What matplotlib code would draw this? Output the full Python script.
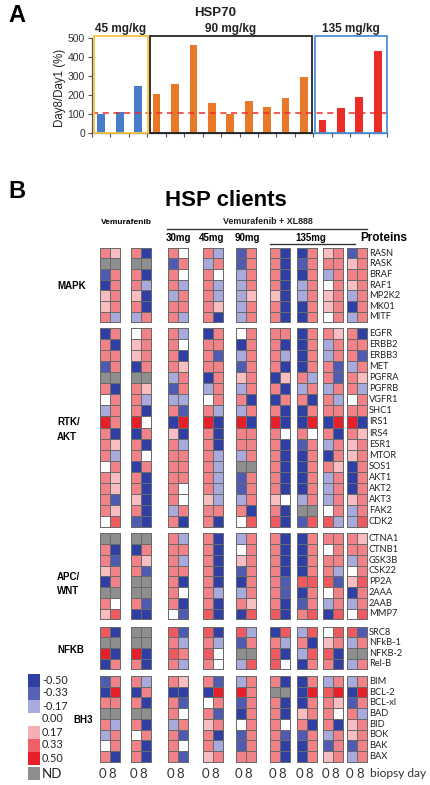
import numpy as np
import matplotlib
matplotlib.use('Agg')
import matplotlib.pyplot as plt
from matplotlib.colors import LinearSegmentedColormap, Normalize
from matplotlib.patches import Rectangle

plt.rcParams['font.family'] = ['Liberation Sans', 'DejaVu Sans']

# ---------------- Panel A data ----------------
dose_groups = ['45 mg/kg', '90 mg/kg', '135 mg/kg']
hsp70_45 = [100, 110, 245]
hsp70_90 = [205, 260, 465, 160, 100, 170, 135, 185, 295]
hsp70_135 = [70, 130, 190, 430]
hsp70_reference = 105
yticks_a = [0, 100, 200, 300, 400, 500]

# ---------------- Panel B data ----------------
# cell codes: B=-0.50, b=-0.36, l=-0.17, w=0, p=0.14, s=0.26, r=0.34, R=0.50, N=not determined
code_values = {'B': -0.50, 'b': -0.36, 'l': -0.17, 'w': 0.0, 'p': 0.14,
               's': 0.26, 'r': 0.34, 'R': 0.50, 'N': np.nan}
patient_labels = ['Vem-1', 'Vem-2', '30mg', '45mg', '90mg', '135mg-1', '135mg-2', '135mg-3', '135mg-4']
day_labels = ['0', '8']

group_names = ['MAPK', 'RTK/\nAKT', 'APC/\nWNT', 'NFKB', 'BH3']

mapk_proteins = ['RASN', 'RASK', 'BRAF', 'RAF1', 'MP2K2', 'MK01', 'MITF']
mapk_values = [
    "sp sB sw sl bs sB Bs ps bs",
    "NN NN bs ls bs sB bs ss ps",
    "bs sB sw sw ls sB Bs ls ss",
    "Bs sl sl sl ls sB ls ws ps",
    "ps pB ls sl lp pB ls ps ls",
    "ps sB ss sp ls sB Bs ps Bs",
    "sl ls sl sB ls sB Bs ws ls",
]

rtk_proteins = ['EGFR', 'ERBB2', 'ERBB3', 'MET', 'PGFRA', 'PGFRB', 'VGFR1', 'SHC1', 'IRS1',
                'IRS4', 'ESR1', 'MTOR', 'SOS1', 'AKT1', 'AKT2', 'AKT3', 'FAK2', 'CDK2']
rtk_values = [
    "Bs ws sl Bs ws ss Bs sp sB",
    "sB ps sw ss Bs sB Bs ls ss",
    "ss ps sB sb ls sl Bs ls sb",
    "bs Bs sp ss bs sB Bs sb ls",
    "NN NN ls Bs ps Bp sl sb sp",
    "sB sp bs ls ls sB ls ls sl",
    "ws sl ll ws sB Bs sB sl ws",
    "ls sB sb sl ls sB Bs ss ss",
    "Rs Rw BR RB RB RB BR BR RB",
    "sB Bs pB sB ss sw sw sB sp",
    "sp sB sl sB ss sB bs ls ps",
    "sl sw ss sl ls sB Bs Bs ps",
    "ws Bs ss sl NN sB Bs sp Bs",
    "sp sB ss sl bs sB Bs ls Bs",
    "sp sB sw sl bs sB Bs ls Bs",
    "sb pB sw pl ls pw ls ls ps",
    "sp sB ls ss sB sB NN ws ls",
    "wr bB sB sB wr rB br rl lr",
]

wnt_proteins = ['CTNA1', 'CTNB1', 'GSK3B', 'CSK22', 'PP2A', '2AAA', '2AAB', 'MMP7']
wnt_values = [
    "NN NN sl sB ls sB Bs ss sp",
    "sB Bs ss sB ws sB Bs ws ss",
    "sb sp sl sB ps sB Bs ss ls",
    "ps sb ss sB bs sB Bs sl ws",
    "Bs NN sB sB Bs sb rr rb pr",
    "NN NN sw sl ls sb Bs ws Bs",
    "sw sb sB sB sp sB bs ls ls",
    "pr BB wb rB Br rB sr Br wr",
]

nfkb_proteins = ['SRC8', 'NFkB-1', 'NFKB-2', 'Rel-B']
nfkb_values = [
    "rB NN rb rB rl Br lr wr rb",
    "NN NN sl sl bs sl sB ps ls",
    "RB RB rs rw NN rB lr rB NN",
    "Bs sB sl sw lr rw Bs sB ls",
]

bh3_proteins = ['BIM', 'BCL-2', 'BCL-xl', 'BAD', 'BID', 'BOK', 'BAK', 'BAX']
bh3_values = [
    "bs sl sp sb ls sB Bs ls ls",
    "BR Bs BB BR Rs NN BR rR BR",
    "ss sB sb ws bs sB Bs sp bs",
    "NN NN sw sb Bs sB ps sw sl",
    "sl sB ls ps ws sw sB sB ps",
    "ls ws sb sB bs sb bs ls ps",
    "ws sB sw sl bs sB Bs bs bs",
    "sB sB sb ps ss sB Bs ps ls",
]

legend_values = [-0.50, -0.33, -0.17, 0.00, 0.17, 0.33, 0.50]
legend_labels = ['-0.50', '-0.33', '-0.17', '0.00', '0.17', '0.33', '0.50']
legend_colors = ['#2F3FA3', '#5762B4', '#A7AADB', '#FFFFFF', '#F6AEB2', '#EE6066', '#E61F28']
nd_color = '#8E8E8E'

# ---------------- figure ----------------
W, H = 431, 785
fig = plt.figure(figsize=(W / 100, H / 100), dpi=100)
axb = fig.add_axes([0, 0, 1, 1])
axb.set_xlim(0, W)
axb.set_ylim(H, 0)
axb.axis('off')

# ---------------- Panel A ----------------
ax_left, ax_right, ax_top, ax_bot = 92, 387, 38, 133
axa = fig.add_axes([ax_left / W, 1 - ax_bot / H, (ax_right - ax_left) / W, (ax_bot - ax_top) / H])
axa.set_facecolor('none')
all_vals = hsp70_45 + hsp70_90 + hsp70_135
bar_colors = ['#4A7DC8'] * len(hsp70_45) + ['#E8792B'] * len(hsp70_90) + ['#EC2D25'] * len(hsp70_135)
xpos = np.arange(len(all_vals))
axa.bar(xpos, all_vals, width=0.42, color=bar_colors, zorder=2)
axa.axhline(hsp70_reference, color='#E8302A', lw=1.1, ls=(0, (4, 3)), zorder=3)
axa.set_xlim(-0.5, len(all_vals) - 0.5)
axa.set_ylim(0, 500)
axa.set_yticks(yticks_a)
axa.set_yticklabels([str(v) for v in yticks_a], fontsize=7.5, color='#333333')
axa.set_xticks(np.arange(-0.5, len(all_vals), 1.0))
axa.set_xticklabels([])
axa.tick_params(axis='x', direction='out', length=3, width=0.8, color='#555555')
axa.tick_params(axis='y', direction='out', length=3, width=0.8, color='#555555', pad=2)
for s in ['top', 'right']:
    axa.spines[s].set_visible(False)
for s in ['left', 'bottom']:
    axa.spines[s].set_color('#555555')
    axa.spines[s].set_linewidth(0.9)

n1, n2 = len(hsp70_45), len(hsp70_90)
boxes = [(-0.39, n1 - 0.46, '#F5C242'), (n1 - 0.35, n1 + n2 - 0.57, '#222222'),
         (n1 + n2 - 0.41, len(all_vals) - 0.52, '#4A90D9')]
for (x0, x1, c), lab in zip(boxes, dose_groups):
    axa.add_patch(Rectangle((x0, 0), x1 - x0, 510, fill=False, ec=c, lw=1.3, clip_on=False, zorder=4))
    axa.text((x0 + x1) / 2, 547, lab, ha='center', va='center', fontsize=8.5, fontweight='bold',
             color='#222222', clip_on=False)

axb.text(60, 88, 'Day8/Day1 (%)', rotation=90, ha='center', va='center', fontsize=8.3, color='#222222')
axb.text(215, 13, 'HSP70', ha='center', va='center', fontsize=9.5, fontweight='bold', color='#222222')
axb.text(8, 16, 'A', ha='left', va='center', fontsize=17, fontweight='bold')

# ---------------- Panel B ----------------
axb.text(8, 191, 'B', ha='left', va='center', fontsize=17, fontweight='bold')
axb.text(226, 201, 'HSP clients', ha='center', va='center', fontsize=16, fontweight='bold')
axb.text(126, 222, 'Vemurafenib', ha='center', va='center', fontsize=6, fontweight='bold')
axb.text(268, 222, 'Vemurafenib + XL888', ha='center', va='center', fontsize=6.4, fontweight='bold', color='#222222')
axb.plot([167, 367], [229, 229], color='#333333', lw=1.0)
for lab, xc in zip(['30mg', '45mg', '90mg', '135mg'], [178, 212, 247, 311]):
    axb.text(xc, 238, lab, ha='center', va='center', fontsize=7, fontweight='bold')
axb.plot([270, 355], [244, 244], color='#333333', lw=1.0)
axb.text(360, 238, 'Proteins', ha='left', va='center', fontsize=8.5, fontweight='bold')

cmap = LinearSegmentedColormap.from_list(
    'hsp', [((v + 0.5) / 1.0, c) for v, c in zip(legend_values, legend_colors)])
cmap.set_bad(nd_color)
norm = Normalize(-0.5, 0.5)

pair_left = [100, 131, 168, 203, 236, 270, 297, 323, 347.5]
cell_w = 9.8
group_tops = [247.7, 328.3, 533.3, 626.7, 676.0]
group_bots = [322.3, 526.7, 619.3, 669.3, 761.7]
group_label_pos = [(57, 286), (57, 429.5), (57, 584), (57, 650), (73, 720)]

groups = [(mapk_proteins, mapk_values), (rtk_proteins, rtk_values), (wnt_proteins, wnt_values),
          (nfkb_proteins, nfkb_values), (bh3_proteins, bh3_values)]

for gi, (prots, rows) in enumerate(groups):
    arr = np.array([[code_values[ch] for ch in r.replace(' ', '')] for r in rows])
    arr = np.ma.masked_invalid(arr)
    ye = np.linspace(group_tops[gi], group_bots[gi], len(prots) + 1)
    for pi, x0 in enumerate(pair_left):
        xe = np.array([x0, x0 + cell_w, x0 + 2 * cell_w])
        axb.pcolormesh(xe, ye, arr[:, 2 * pi:2 * pi + 2], cmap=cmap, norm=norm,
                       edgecolors='#6A6A6A', linewidth=0.45)
    centers = (ye[:-1] + ye[1:]) / 2
    for name, yc in zip(prots, centers):
        axb.text(369, yc, name, ha='left', va='center', fontsize=6.7, family=['Lato', 'DejaVu Sans'],
                 color='#222222')
    gx, gy = group_label_pos[gi]
    axb.text(gx, gy, group_names[gi], ha='left', va='center', fontsize=7, fontweight='bold',
             linespacing=1.6)

# biopsy day labels
for x0 in pair_left:
    for k, d in enumerate(day_labels):
        axb.text(x0 + cell_w * (k + 0.5) - 2.5, 773.5, d, ha='center', va='center', fontsize=9.5,
                 family=['Lato', 'DejaVu Sans'], color='#333333')
axb.text(370, 773.5, 'biopsy day', ha='left', va='center', fontsize=8.6,
         family=['Lato', 'DejaVu Sans'], color='#333333')

# legend
leg_top, leg_step = 673.5, 13.0
for i, (c, lab) in enumerate(zip(legend_colors, legend_labels)):
    y0 = leg_top + i * leg_step
    axb.add_patch(Rectangle((28, y0), 12, leg_step, fc=c, ec='none'))
    axb.text(42, y0 + leg_step / 2, lab, ha='left', va='center', fontsize=7.8,
             family=['Lato', 'DejaVu Sans'], color='#222222')
axb.add_patch(Rectangle((28, 767), 12, 13, fc=nd_color, ec='none'))
axb.text(42, 774, 'ND', ha='left', va='center', fontsize=9.5, family=['Lato', 'DejaVu Sans'],
         color='#222222')

fig.savefig('out.png', dpi=100)
